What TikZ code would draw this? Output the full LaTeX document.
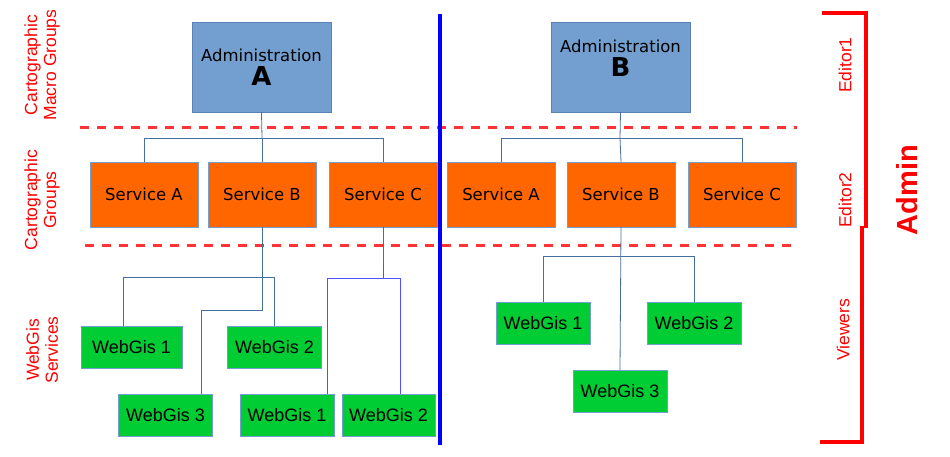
\documentclass[tikz,border=0pt]{standalone}
\usepackage{fontspec}
\setmainfont{DejaVu Sans}
\newfontfamily\lib{Liberation Sans}
\begin{document}
\begin{tikzpicture}[x=1pt,y=-1pt,
 adm/.style={draw={rgb,255:red,90;green,130;blue,180},fill={rgb,255:red,114;green,159;blue,207},minimum width=139pt,minimum height=90pt,inner sep=0pt,align=center,font=\fontsize{16.5}{20}\selectfont},
 srv/.style={draw={rgb,255:red,114;green,159;blue,207},fill={rgb,255:red,255;green,102;blue,0},minimum width=108pt,minimum height=65pt,inner sep=0pt,font=\fontsize{16.5}{20}\selectfont},
 wg/.style={draw={rgb,255:red,114;green,159;blue,207},fill={rgb,255:red,0;green,204;blue,51},minimum width=94pt,minimum height=42pt,inner sep=0pt,font=\lib\fontsize{18}{20}\selectfont},
 con/.style={draw={rgb,255:red,70;green,110;blue,160},line width=0.8pt},
 con2/.style={draw={rgb,255:red,80;green,80;blue,255},line width=0.8pt},
 reddash/.style={red!80!white,line width=3pt,dash pattern=on 9pt off 8pt},
 lab/.style={red,rotate=90,align=center,font=\lib\fontsize{17.5}{19}\selectfont}]
\useasboundingbox (0,0) rectangle (950,457);
\draw[reddash] (80,128) -- (797,128);
\draw[reddash] (85,245) -- (793,245);
\node[adm] (aa) at (261.5,67) {Administration\\[4pt]{\fontsize{26}{26}\selectfont\bfseries A}};
\node[adm] (ab) at (620.5,67) {Administration\\[4pt]{\fontsize{26}{26}\selectfont\bfseries B}\\[-2pt]};
\node[srv] (sa1) at (144,194.5) {Service A};
\node[srv] (sb1) at (262,194.5) {Service B};
\node[srv] (sc1) at (383,194.5) {Service C};
\node[srv] (sa2) at (501,194.5) {Service A};
\node[srv] (sb2) at (621,194.5) {Service B};
\node[srv] (sc2) at (742,194.5) {Service C};
\node[wg,minimum width=101pt] (w1) at (131.5,347) {WebGis 1};
\node[wg] (w2) at (274.5,347) {WebGis 2};
\node[wg] (w3) at (165.5,415) {WebGis 3};
\node[wg] (w4) at (287,415) {WebGis 1};
\node[wg,minimum width=93pt] (w5) at (388.5,415) {WebGis 2};
\node[wg] (r1) at (543,323) {WebGis 1};
\node[wg] (r2) at (694,323) {WebGis 2};
\node[wg] (r3) at (620,391) {WebGis 3};
% connectors
\draw[con] (aa.south) -- (262,138);
\draw[con] (sa1.north) |- (sc1.north |- 0,138) -- (sc1.north);
\draw[con] (sb1.north) -- (262,138);
\draw[con] (ab.south) -- (620,138);
\draw[con] (sa2.north) |- (sc2.north |- 0,138) -- (sc2.north);
\draw[con] (sb2.north) -- (620,138);
\draw[con] (sb1.south) -- (262,310) -| (201,394);
\draw[con] (123,326) |- (274,277) -- (274,326);
\draw[con] (sc1.south) -- (383,270);
\draw[con2] (327,394) |- (400,278) -- (400,394);
\draw[con2] (383,270) -- (383,278);
\draw[con] (sb2.south) -- (r3.north);
\draw[con] (r1.north) |- (r2.north |- 0,256) -- (r2.north);
\draw[blue,line width=3.5pt] (440,14) -- (440,445);
% labels
\node[lab] (l1) at (42,65) {Cartographic\\Macro Groups};
\node[lab] (l2) at (42,200) {Cartographic\\Groups};
\node[lab] (l3) at (42,350) {WebGis\\Services};
\node[lab] (e1) at (845,65) {Editor1};
\node[lab] (e2) at (845,200) {Editor2};
\node[lab] (v) at (843,330) {Viewers};
\draw[red,line width=4pt] (822,13) -- (866,13) -- (866,228);
\draw[red,line width=4pt] (862,226) -- (862,442) -- (820,442);
\node[lab,font=\lib\bfseries\fontsize{29}{30}\selectfont] (adm) at (907,190) {Admin};
\end{tikzpicture}
\end{document}
